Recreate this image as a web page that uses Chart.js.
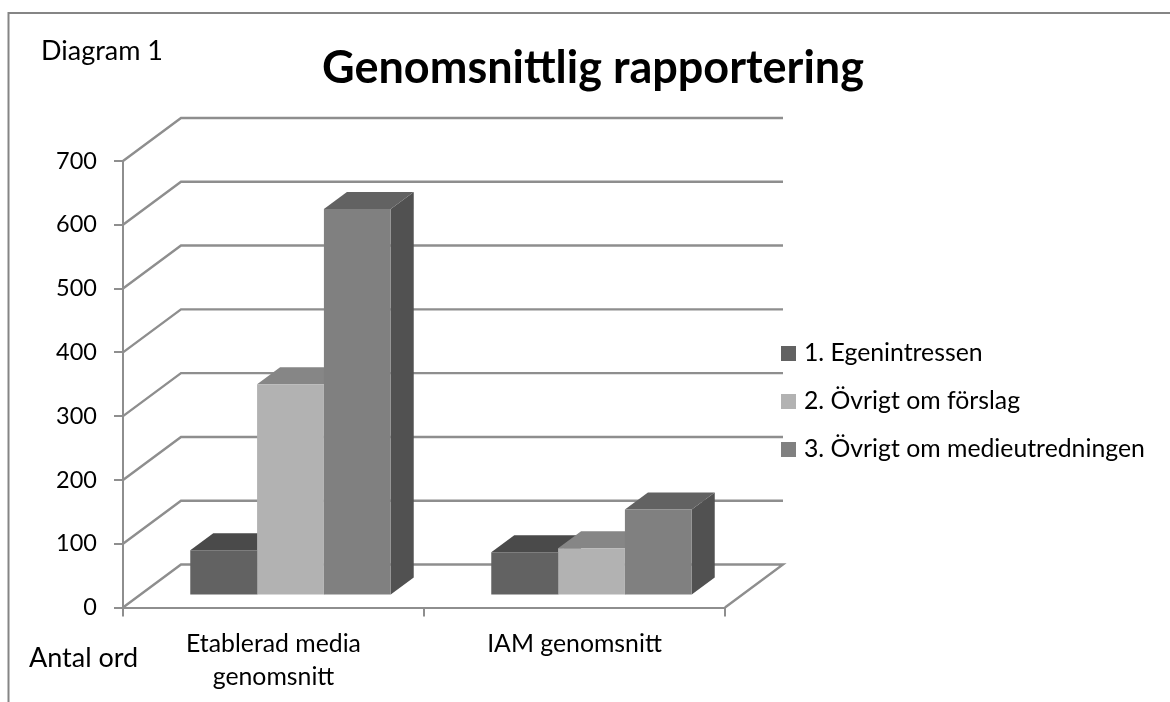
<!DOCTYPE html>
<html>
<head>
<meta charset="utf-8">
<title>Genomsnittlig rapportering</title>
<script src="https://cdn.jsdelivr.net/npm/chart.js@4"></script>
<style>
  html, body { margin: 0; padding: 0; background: #fff; overflow: hidden; }
  #wrap { width: 1170px; height: 702px; }
</style>
</head>
<body>
<div id="wrap"><canvas id="chart" width="1170" height="702"></canvas></div>
<script>
const categories = [['Etablerad media', 'genomsnitt'], 'IAM genomsnitt'];
const seriesNames = ['1. Egenintressen', '2. Övrigt om förslag', '3. Övrigt om medieutredningen'];
const egenintressen = [71, 68];
const ovrigtForslag = [331, 74];
const ovrigtMedie = [606, 135];
const yTicks = [0, 100, 200, 300, 400, 500, 600, 700];

const frontColors = ['#626262', '#b2b2b2', '#808080'];
const topColors = ['#4a4a4a', '#868686', '#626262'];
const sideColors = ['#404040', '#707070', '#515151'];
const lineColor = '#8e8e8e';
const fontName = 'Lato, Carlito, sans-serif';

// 3D look: wall offset of the back plane, bar offset inside the floor, bar depth
const wallDx = 58, wallDy = -43;
const barDx = 17, barDy = -12;
const depthDx = 23, depthDy = -17;

const walls3d = {
  id: 'walls3d',
  afterLayout(chart) {
    // move title and legend to where they sit in the original
    chart.titleBlock.left = 16;
    chart.titleBlock.right = 1170;
    const lg = chart.legend;
    lg.left = 762.3;
    lg.right = 1170;
    lg.top = 317.9;
    lg.bottom = 702;
  },
  beforeDraw(chart) {
    const ctx = chart.ctx;
    ctx.save();
    ctx.strokeStyle = '#858585';
    ctx.lineWidth = 2;
    ctx.beginPath();
    ctx.moveTo(8.5, 702);
    ctx.lineTo(8.5, 13);
    ctx.lineTo(1170, 13);
    ctx.stroke();
    ctx.fillStyle = '#000';
    ctx.textBaseline = 'middle';
    ctx.font = '27px ' + fontName;
    ctx.fillText('Diagram 1', 41, 51);
    ctx.fillText('Antal ord', 29, 658);
    ctx.restore();
  },
  beforeDatasetsDraw(chart) {
    const ctx = chart.ctx, y = chart.scales.y, area = chart.chartArea;
    ctx.save();
    ctx.strokeStyle = lineColor;
    ctx.lineWidth = 2.4;
    yTicks.forEach(function (t) {
      const py = y.getPixelForValue(t);
      ctx.beginPath();
      ctx.moveTo(area.left, py);
      ctx.lineTo(area.left + wallDx, py + wallDy);
      ctx.lineTo(area.right + wallDx, py + wallDy);
      if (t === 0) ctx.lineTo(area.right, py);
      ctx.stroke();
    });
    // bars stand inside the floor, so everything from here is shifted
    ctx.translate(barDx, barDy);
    chart.data.datasets.forEach(function (ds, i) {
      chart.getDatasetMeta(i).data.forEach(function (bar) {
        const p = bar.getProps(['x', 'y', 'base', 'width'], true);
        const l = p.x - p.width / 2, r = p.x + p.width / 2;
        ctx.fillStyle = sideColors[i];
        ctx.beginPath();
        ctx.moveTo(r, p.y);
        ctx.lineTo(r + depthDx, p.y + depthDy);
        ctx.lineTo(r + depthDx, p.base + depthDy);
        ctx.lineTo(r, p.base);
        ctx.closePath();
        ctx.fill();
        ctx.fillStyle = topColors[i];
        ctx.beginPath();
        ctx.moveTo(l, p.y);
        ctx.lineTo(l + depthDx, p.y + depthDy);
        ctx.lineTo(r + depthDx, p.y + depthDy);
        ctx.lineTo(r, p.y);
        ctx.closePath();
        ctx.fill();
      });
    });
  },
  afterDatasetsDraw(chart) {
    chart.ctx.restore();
  }
};

new Chart(document.getElementById('chart'), {
  type: 'bar',
  data: {
    labels: categories,
    datasets: [
      { label: seriesNames[0], data: egenintressen, backgroundColor: frontColors[0] },
      { label: seriesNames[1], data: ovrigtForslag, backgroundColor: frontColors[1] },
      { label: seriesNames[2], data: ovrigtMedie, backgroundColor: frontColors[2] }
    ]
  },
  options: {
    responsive: false,
    animation: false,
    layout: { padding: { left: 0, top: 0, right: 444, bottom: 0 } },
    datasets: { bar: { categoryPercentage: 0.666, barPercentage: 1 } },
    plugins: {
      title: {
        display: true,
        text: 'Genomsnittlig rapportering',
        color: '#000',
        font: { family: fontName, size: 45, weight: 'bold', lineHeight: 1.2 },
        padding: { top: 41, bottom: 66 }
      },
      legend: {
        position: 'right',
        align: 'start',
        maxWidth: 1,
        labels: {
          color: '#000',
          font: { family: fontName, size: 24.8 },
          boxWidth: 6,
          boxHeight: 6,
          padding: 23.2,
          generateLabels(chart) {
            return seriesNames.map(function (name, i) {
              return {
                text: name,
                fillStyle: frontColors[i],
                strokeStyle: frontColors[i],
                lineWidth: 9,
                datasetIndex: i
              };
            });
          }
        }
      },
      tooltip: { enabled: false }
    },
    scales: {
      x: {
        afterFit(s) { s.height = 94.5; },
        grid: { drawOnChartArea: false, drawTicks: true, tickLength: 9, color: lineColor, lineWidth: 2 },
        border: { display: true, color: lineColor, width: 2 },
        ticks: { color: '#000', padding: 11, maxRotation: 0, autoSkip: false, font: { family: fontName, size: 24.8, lineHeight: 1.33 } }
      },
      y: {
        min: 0,
        max: 700,
        afterFit(s) { s.width = 123; },
        afterBuildTicks(s) { s.ticks = yTicks.map(function (v) { return { value: v }; }); },
        grid: { drawOnChartArea: false, drawTicks: true, tickLength: 9, color: lineColor, lineWidth: 2 },
        border: { display: true, color: lineColor, width: 2 },
        ticks: { color: '#000', padding: 17, font: { family: fontName, size: 23.5 } }
      }
    }
  },
  plugins: [walls3d]
});
</script>
</body>
</html>
